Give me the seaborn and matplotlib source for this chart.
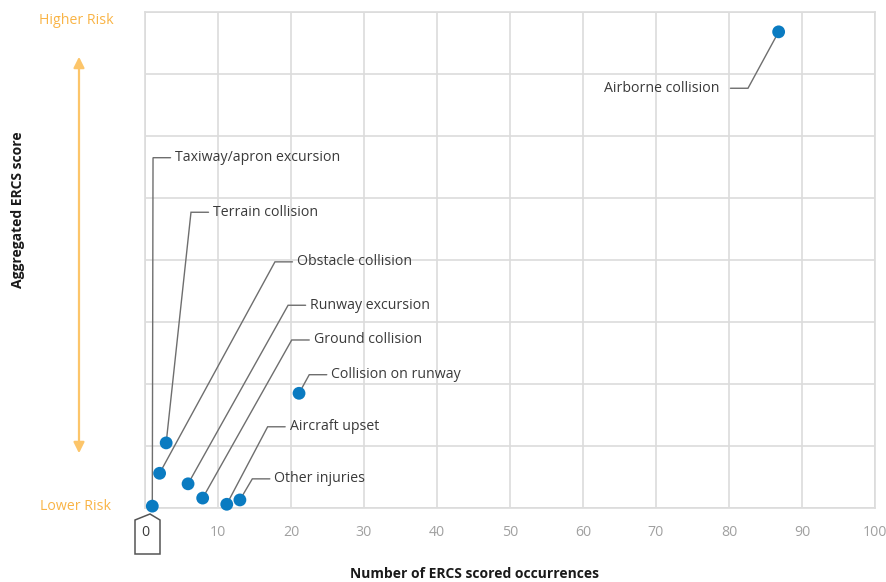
import matplotlib
matplotlib.use("Agg")
import matplotlib.pyplot as plt
from matplotlib.patches import Polygon, FancyArrowPatch
from matplotlib.transforms import IdentityTransform
import seaborn as sns
import pandas as pd

# Occurrence categories with their ERCS results
categories = [
    "Taxiway/apron excursion", "Terrain collision", "Obstacle collision",
    "Runway excursion", "Ground collision", "Collision on runway",
    "Aircraft upset", "Other injuries", "Airborne collision",
]
occurrences = [1.0, 2.9, 2.0, 5.9, 7.9, 21.1, 11.2, 13.0, 86.8]
ercs_score = [0.03, 1.05, 0.56, 0.39, 0.16, 1.85, 0.06, 0.13, 7.68]
x_ticks = [0, 10, 20, 30, 40, 50, 60, 70, 80, 90, 100]

# Leader-line elbows (data units) and which side the label sits on
label_elbows = {
    "Taxiway/apron excursion": (1.1, 5.65, "right"),
    "Terrain collision": (6.3, 4.77, "right"),
    "Obstacle collision": (17.8, 3.97, "right"),
    "Runway excursion": (19.6, 3.27, "right"),
    "Ground collision": (20.1, 2.71, "right"),
    "Collision on runway": (22.5, 2.15, "right"),
    "Aircraft upset": (16.8, 1.31, "right"),
    "Other injuries": (14.7, 0.47, "right"),
    "Airborne collision": (82.6, 6.77, "left"),
}

df = pd.DataFrame({"category": categories, "count": occurrences, "score": ercs_score})

sns.set_theme(style="white")
plt.rcParams["font.family"] = ["Open Sans", "DejaVu Sans"]

fig = plt.figure(figsize=(8.86, 5.82), dpi=100)
ax = fig.add_axes([145 / 886, 1 - 508 / 582, 730 / 886, 496 / 582])

grid_c = "#dcdcdc"
text_c = "#3a3a3a"
lead_c = "#6e6e6e"
orange = "#f9b446"
blue = "#0a7bc1"
fs = 10.2

ax.set_xlim(0, 100)
ax.set_ylim(0, 8)
ax.set_xticks(x_ticks)
ax.set_yticks(range(0, 9))
ax.set_yticklabels([])
ax.grid(True, color=grid_c, linewidth=1.2)
for s in ax.spines.values():
    s.set_color(grid_c)
    s.set_linewidth(1.2)
ax.tick_params(axis="both", length=0)
ax.tick_params(axis="x", pad=12, labelsize=fs, labelcolor="#a0a0a0")
ax.set_axisbelow(True)

# Leader lines and labels
seg = 2.4
for cat, x, y in zip(categories, occurrences, ercs_score):
    ex, ey, side = label_elbows[cat]
    if side == "right":
        hx = ex + seg
        tx, ha = hx + 0.6, "left"
    else:
        hx = ex - seg
        tx, ha = hx - 1.5, "right"
    ax.plot([x, ex, hx], [y, ey, ey], color=lead_c, lw=1.0, zorder=2,
            solid_joinstyle="miter")
    ax.text(tx, ey, cat, ha=ha, va="center", fontsize=fs, color=text_c)

sns.scatterplot(data=df, x="count", y="score", ax=ax, s=85, color=blue,
                edgecolor="none", zorder=3, clip_on=False, legend=False)

ax.set_xlabel("")
ax.set_ylabel("")

# Tag around the zero tick label (pixel offsets from the origin)
labels = ax.get_xticklabels()
labels[0].set_color(text_c)
ox, oy = ax.transData.transform((0, 0))
offsets = [(-10, -46), (-10, -12), (5, -6), (15, -12), (15, -46)]
tag = Polygon([(ox + dx, oy + dy) for dx, dy in offsets], closed=True,
              fill=False, edgecolor="#555555", lw=1.1,
              transform=IdentityTransform(), clip_on=False)
fig.add_artist(tag)

# Risk scale on the left
fig.text(76 / 886, 1 - 20 / 582, "Higher Risk", color=orange, fontsize=fs,
         ha="center", va="center")
fig.text(76 / 886, 1 - 506 / 582, "Lower Risk", color=orange, fontsize=fs,
         ha="center", va="center")
arrow = FancyArrowPatch((79 / 886, 1 - 456 / 582), (79 / 886, 1 - 54 / 582),
                        transform=fig.transFigure, arrowstyle="<|-|>",
                        mutation_scale=16, color="#fcc56a", lw=1.6)
fig.add_artist(arrow)

fig.text(18 / 886, 1 - 210 / 582, "Aggregated ERCS score", rotation=90,
         fontsize=10, fontweight="bold", color="#1a1a1a", ha="center", va="center")
fig.text(475 / 886, 1 - 574 / 582, "Number of ERCS scored occurrences",
         fontsize=10, fontweight="bold", color="#1a1a1a", ha="center", va="center")

fig.savefig("out.png", dpi=100)
